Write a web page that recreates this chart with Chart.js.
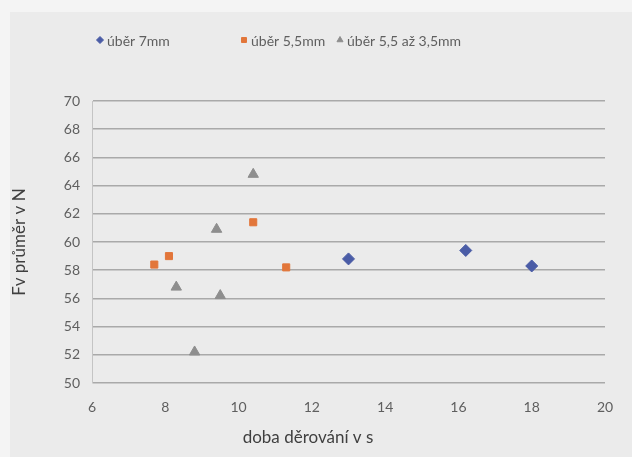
<!DOCTYPE html>
<html>
<head>
<meta charset="utf-8">
<script src="https://cdn.jsdelivr.net/npm/chart.js@4"></script>
<style>
  html, body { margin: 0; padding: 0; background: #f3f3f3; }
  #wrap { width: 632px; height: 457px; }
</style>
</head>
<body>
<div id="wrap"><canvas id="chart" width="632" height="457"></canvas></div>
<script>
// values
const seriesNames = ['úběr 7mm', 'úběr 5,5mm', 'úběr 5,5 až 3,5mm'];
const ubir7X = [13.0, 16.2, 18.0];
const ubir7Y = [58.8, 59.4, 58.3];
const ubir55X = [7.7, 8.1, 10.4, 11.3];
const ubir55Y = [58.4, 59.0, 61.4, 58.2];
const ubirMixX = [8.3, 8.8, 9.4, 9.5, 10.4];
const ubirMixY = [56.8, 52.2, 60.9, 56.2, 64.8];
const xTicks = [6, 8, 10, 12, 14, 16, 18, 20];
const yTicks = [50, 52, 54, 56, 58, 60, 62, 64, 66, 68, 70];
const xTitle = 'doba děrování v s';
const yTitle = 'Fv průměr v N';

const pts = (xs, ys) => xs.map((x, i) => ({ x, y: ys[i] }));
const font = "Lato, 'Open Sans', sans-serif";
const grey = '#5f5f5f';

const bgPlugin = {
    id: 'bg',
    beforeDraw(chart) {
        const ctx = chart.ctx;
        ctx.save();
        ctx.fillStyle = '#f4f4f4';
        ctx.fillRect(0, 0, chart.width, chart.height);
        ctx.fillStyle = '#ebebeb';
        ctx.fillRect(10, 12, chart.width - 10, chart.height - 12);
        ctx.restore();
    }
};

// excel-like legend and x title: placed where the original has them
const legendPlugin = {
    id: 'xlLegend',
    afterDraw(chart) {
        const ctx = chart.ctx;
        const xs = [100, 244, 340];
        const y = 40;
        ctx.save();
        ctx.font = '14px ' + font;
        ctx.textBaseline = 'middle';
        chart.data.datasets.forEach((ds, i) => {
            ctx.fillStyle = ds.backgroundColor;
            ctx.strokeStyle = ds.borderColor;
            Chart.helpers.drawPoint(ctx, { pointStyle: ds.pointStyle, radius: 3.5, borderWidth: 1 }, xs[i], y);
            ctx.fillStyle = grey;
            ctx.fillText(ds.label, xs[i] + 7, y + 1);
        });
        ctx.font = '17px ' + font;
        ctx.fillStyle = '#3f3f3f';
        ctx.textAlign = 'center';
        ctx.fillText(xTitle, 308, 438);
        ctx.restore();
    }
};

new Chart(document.getElementById('chart'), {
    type: 'scatter',
    data: {
        datasets: [
            {
                label: seriesNames[0],
                data: pts(ubir7X, ubir7Y),
                pointStyle: 'rectRot',
                pointRadius: 6,
                backgroundColor: '#4a5ca6',
                borderColor: '#4a5ca6',
            },
            {
                label: seriesNames[1],
                data: pts(ubir55X, ubir55Y),
                pointStyle: 'rect',
                pointRadius: 5,
                backgroundColor: '#e2763a',
                borderColor: '#e2763a',
            },
            {
                label: seriesNames[2],
                data: pts(ubirMixX, ubirMixY),
                pointStyle: 'triangle',
                pointRadius: 6,
                backgroundColor: '#8e8e8e',
                borderColor: '#8e8e8e',
            },
        ],
    },
    options: {
        responsive: false,
        animation: false,
        layout: { padding: { left: 9, right: 27, top: 101, bottom: 10 } },
        plugins: {
            tooltip: { enabled: false },
            legend: { display: false },
        },
        scales: {
            x: {
                type: 'linear',
                min: 6, max: 20,
                afterBuildTicks: s => { s.ticks = xTicks.map(v => ({ value: v })); },
                grid: { display: false },
                border: { display: false },
                ticks: { color: grey, font: { family: font, size: 14 }, padding: 8 },
                afterFit: s => { s.height = 64; },
            },
            y: {
                min: 50, max: 70,
                afterBuildTicks: s => { s.ticks = yTicks.map(v => ({ value: v })); },
                grid: { color: '#a9a9a9', lineWidth: 1.5, drawTicks: false },
                border: { display: true, color: '#c4c4c4' },
                ticks: { color: grey, font: { family: font, size: 14 }, padding: 12 },
                title: { display: true, text: yTitle, color: '#3f3f3f', font: { family: font, size: 17 }, padding: 0 },
                afterFit: s => { s.width = 83; },
            },
        },
    },
    plugins: [bgPlugin, legendPlugin],
});
</script>
</body>
</html>
